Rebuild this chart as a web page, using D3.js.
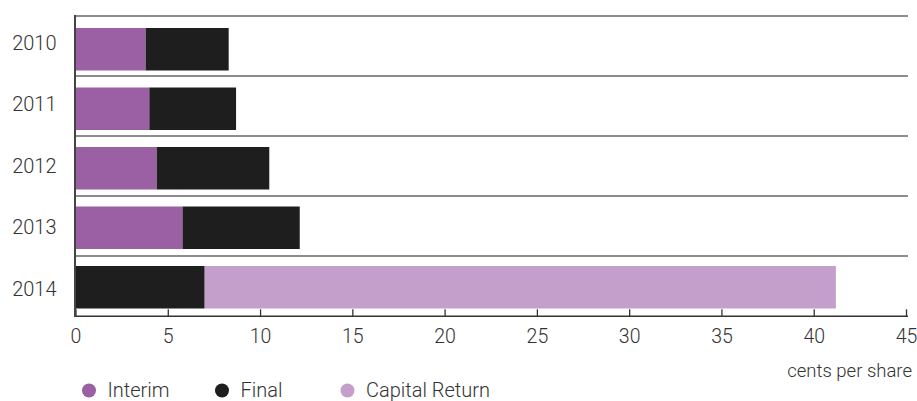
<!DOCTYPE html>
<html>
<head>
<meta charset="utf-8">
<script src="https://cdn.jsdelivr.net/npm/d3@7"></script>
<style>
  body { margin: 0; background: #fff; }
  svg { display: block; }
  text { font-family: Roboto, "Liberation Sans", Arial, sans-serif; font-weight: 300; }
</style>
</head>
<body>
<svg id="chart" width="917" height="401"></svg>
<script>
const years = ["2010", "2011", "2012", "2013", "2014"];
const interim = [3.8, 4.0, 4.4, 5.8, 0];
const finalDiv = [4.5, 4.7, 6.1, 6.35, 7.0];
const capitalReturn = [0, 0, 0, 0, 34.2];
const xTicks = [0, 5, 10, 15, 20, 25, 30, 35, 40, 45];
const seriesNames = ["Interim", "Final", "Capital Return"];
const seriesColors = ["#9b5fa3", "#1e1e1e", "#c49fcb"];
const unitLabel = "cents per share";

const svg = d3.select("#chart");

const x = d3.scaleLinear().domain([0, 45]).range([75.5, 906]);
const rows = d3.scaleBand().domain(years).range([16, 316]);
const bars = d3.scaleBand().domain(years).range([19.5, 317]).paddingInner(0.286).paddingOuter(0.143);
const labelPos = d3.scalePoint().domain(years).range([42.5, 289]);

// row separators
svg.append("g").selectAll("line").data(years).join("line")
  .attr("x1", 75).attr("x2", 908)
  .attr("y1", d => rows(d)).attr("y2", d => rows(d))
  .attr("stroke", "#8c8c8c").attr("stroke-width", 2);

// stacked data
const stackData = years.map((y, i) => ({ year: y, Interim: interim[i], Final: finalDiv[i], "Capital Return": capitalReturn[i] }));
const stack = d3.stack().keys(seriesNames);
const layers = stack(stackData);

svg.append("g").selectAll("g").data(layers).join("g")
  .attr("fill", (d, i) => seriesColors[i])
  .selectAll("rect").data(d => d).join("rect")
  .attr("x", d => x(d[0]))
  .attr("width", d => Math.max(0, x(d[1]) - x(d[0])))
  .attr("y", d => bars(d.data.year))
  .attr("height", bars.bandwidth());

// x axis
const axis = d3.axisBottom(x).tickValues(xTicks).tickSizeInner(-7).tickSizeOuter(0).tickPadding(13);
const gx = svg.append("g").attr("transform", "translate(0,316.3)").call(axis);
gx.select(".domain").attr("stroke", "#333").attr("stroke-width", 1.6).attr("d", "M75,0H908");
gx.selectAll(".tick line").attr("stroke", "#333").attr("stroke-width", 1.3);
gx.selectAll(".tick text").attr("fill", "#333").style("font-size", "19.5px").style("font-family", "Roboto, 'Liberation Sans', Arial, sans-serif").style("font-weight", 300);

// left axis line
svg.append("line").attr("x1", 75).attr("x2", 75).attr("y1", 15).attr("y2", 317)
  .attr("stroke", "#444").attr("stroke-width", 2);

// year labels
svg.append("g").selectAll("text").data(years).join("text")
  .attr("x", 56.5).attr("y", d => labelPos(d))
  .attr("text-anchor", "end").attr("dominant-baseline", "central")
  .attr("fill", "#333").style("font-size", "20px")
  .text(d => d);

// unit label
svg.append("text").attr("x", 912).attr("y", 376.5).attr("text-anchor", "end")
  .attr("fill", "#333").style("font-size", "18.5px").text(unitLabel);

// legend
const legendX = [89, 222, 347.5];
const lg = svg.append("g").selectAll("g").data(seriesNames).join("g")
  .attr("transform", (d, i) => `translate(${legendX[i]},390.5)`);
lg.append("circle").attr("r", 7).attr("fill", (d, i) => seriesColors[i]);
lg.append("text").attr("x", 18.5).attr("y", 6).attr("fill", "#333").style("font-size", "20px").text(d => d);
</script>
</body>
</html>
